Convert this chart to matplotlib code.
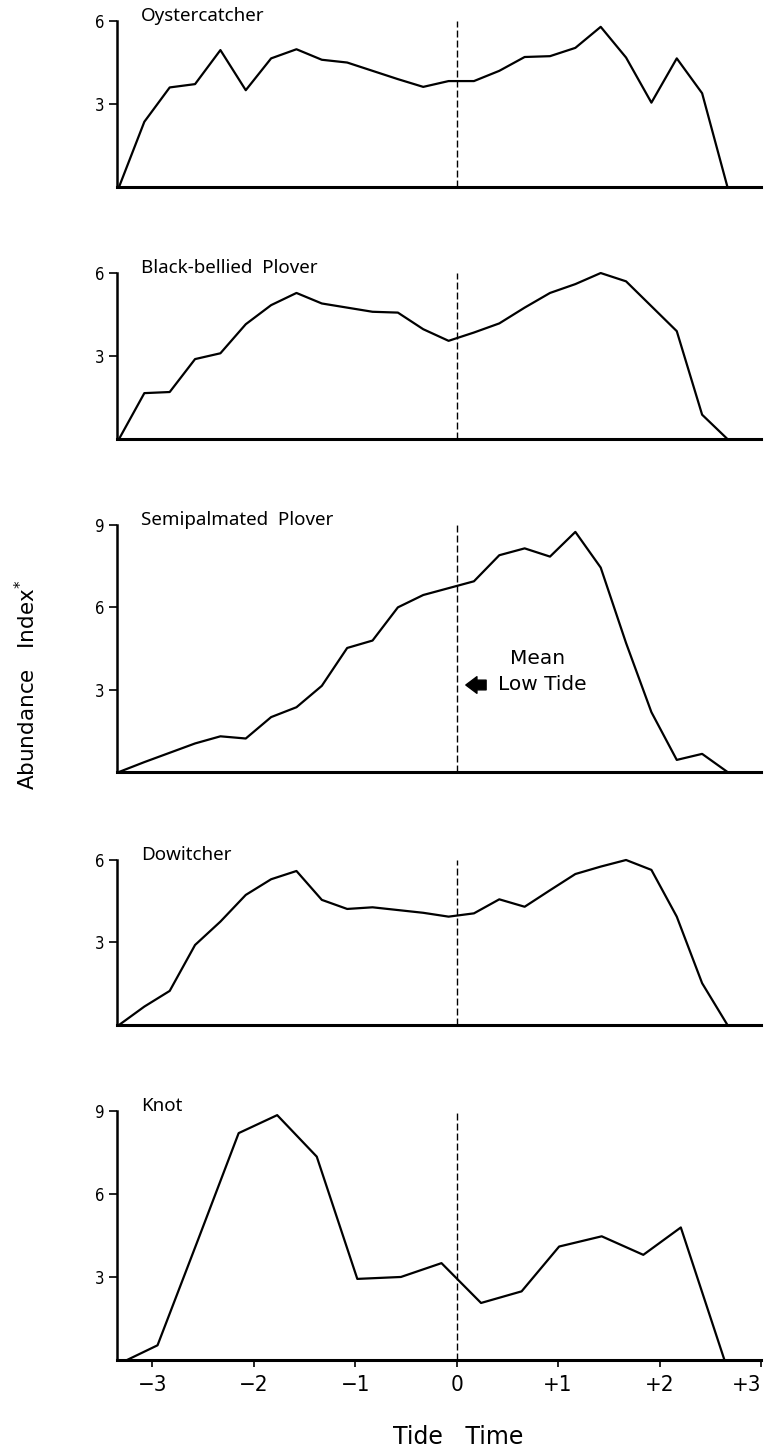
import matplotlib.pyplot as plt

# tide time (hours from mean low tide) of each count
times = [-3.33, -3.08, -2.83, -2.58, -2.33, -2.08, -1.83, -1.58, -1.33, -1.08,
         -0.83, -0.58, -0.33, -0.08, 0.17, 0.42, 0.67, 0.92, 1.17, 1.42,
         1.67, 1.92, 2.17, 2.42, 2.67]
knot_times = [-3.25, -2.95, -2.55, -2.15, -1.77, -1.38, -0.98, -0.55, -0.15,
              0.24, 0.64, 1.01, 1.43, 1.84, 2.21, 2.64]

oystercatcher = [0.0, 2.36, 3.6, 3.72, 4.95, 3.5, 4.65, 4.98, 4.6, 4.5, 4.2, 3.9,
                 3.62, 3.83, 3.83, 4.2, 4.7, 4.73, 5.03, 5.79, 4.68, 3.05, 4.65,
                 3.39, 0.0]
bb_plover = [0.0, 1.66, 1.7, 2.89, 3.1, 4.15, 4.84, 5.28, 4.9, 4.75, 4.6, 4.57,
             3.97, 3.55, 3.85, 4.18, 4.75, 5.28, 5.6, 6.0, 5.7, 4.8, 3.9, 0.88, 0.0]
semi_plover = [0.0, 0.36, 0.7, 1.04, 1.3, 1.22, 2.0, 2.36, 3.14, 4.52, 4.79, 6.0,
               6.45, 6.7, 6.95, 7.9, 8.15, 7.85, 8.75, 7.45, 4.7, 2.18, 0.44,
               0.66, 0.0]
dowitcher = [0.0, 0.67, 1.24, 2.91, 3.76, 4.73, 5.3, 5.6, 4.55, 4.22, 4.28, 4.18,
             4.08, 3.94, 4.06, 4.57, 4.3, 4.9, 5.49, 5.76, 6.0, 5.64, 3.94, 1.52, 0.0]
knot = [0.0, 0.53, 4.35, 8.2, 8.85, 7.35, 2.93, 3.0, 3.5, 2.06, 2.48, 4.1, 4.47,
        3.8, 4.79, 0.0]

names = ['Oystercatcher', 'Black-bellied  Plover', 'Semipalmated  Plover',
         'Dowitcher', 'Knot']
xs = [times, times, times, times, knot_times]
ys = [oystercatcher, bb_plover, semi_plover, dowitcher, knot]
ymax = [6, 6, 9, 6, 9]

xticks = [-3, -2, -1, 0, 1, 2, 3]
xticklabels = ['\u22123', '\u22122', '\u22121', '0', '+1', '+2', '+3']

# panel rectangles in figure fractions
rects = [[0.1525, 0.8710, 0.8396, 0.1145],
         [0.1525, 0.6972, 0.8396, 0.1145],
         [0.1525, 0.4676, 0.8396, 0.1703],
         [0.1525, 0.2931, 0.8396, 0.1138],
         [0.1525, 0.0621, 0.8396, 0.1717]]

fig = plt.figure(figsize=(7.67, 14.5), dpi=100)

axes = []
for i in range(5):
    ax = fig.add_axes(rects[i])
    ax.plot(xs[i], ys[i], color='black', lw=1.6, clip_on=False)
    ax.vlines(0, 0, ymax[i], colors='black', linestyles=(0, (5, 2.2)), lw=1.0)
    ax.set_xlim(-3.35, 3.0)
    ax.set_ylim(0, ymax[i])
    ax.set_yticks(list(range(3, ymax[i] + 1, 3)))
    ax.set_yticklabels([str(v) for v in range(3, ymax[i] + 1, 3)],
                       family='DejaVu Sans', stretch='condensed', fontsize=12)
    ax.tick_params(axis='y', direction='out', length=6, width=1.2, pad=3)
    for s in ['top', 'right']:
        ax.spines[s].set_visible(False)
    ax.spines['left'].set_linewidth(1.8)
    ax.spines['bottom'].set_linewidth(2.2)
    ax.text(0.037, 1.0, names[i], transform=ax.transAxes, va='baseline',
            ha='left', fontsize=13.5, family='Noto Sans')
    if i < 4:
        ax.tick_params(axis='x', bottom=False, labelbottom=False)
    axes.append(ax)

ax = axes[4]
ax.set_xticks(xticks)
ax.set_xticklabels(xticklabels, family='DejaVu Sans', stretch='condensed', fontsize=16)
ax.get_xticklabels()[-1].set_horizontalalignment('right')
ax.tick_params(axis='x', direction='out', length=5, width=1.2, pad=6)
ax.set_xlabel('Tide   Time', fontsize=17, family='DejaVu Sans')
ax.xaxis.set_label_coords(0.53, -0.262)

# mean low tide marker on the semipalmated plover panel
ax3 = axes[2]
ax3.annotate('', xy=(0.09, 3.17), xytext=(0.29, 3.17),
             arrowprops=dict(arrowstyle='simple,head_length=0.8,head_width=1.2,tail_width=0.7',
                             color='black', shrinkA=0, shrinkB=0, mutation_scale=10))
ax3.text(0.8, 4.15, 'Mean', ha='center', va='center', fontsize=14.5, family='DejaVu Sans')
ax3.text(0.84, 3.2, 'Low Tide', ha='center', va='center', fontsize=14.5, family='DejaVu Sans')

fig.text(0.035, 0.528, 'Abundance   Index$^{*}$', rotation=90, ha='center', va='center',
         fontsize=15.5, family='DejaVu Sans')

fig.savefig('out.png', dpi=100)
